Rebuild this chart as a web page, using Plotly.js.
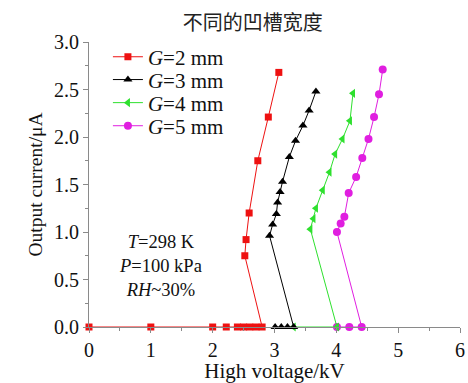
<!DOCTYPE html>
<html>
<head>
<meta charset="utf-8">
<script src="https://cdn.plot.ly/plotly-3.0.1.min.js"></script>
<style>html,body{margin:0;padding:0;background:#fff;}#chart{width:468px;height:383px;}</style>
</head>
<body>
<div id="chart"></div>
<script>
// Data (High voltage / kV, Output current / μA)
const g2_x = [0, 1, 2, 2.22, 2.4, 2.5, 2.6, 2.7, 2.8, 2.52, 2.54, 2.59, 2.73, 2.90, 3.07];
const g2_y = [0, 0, 0, 0, 0, 0, 0, 0, 0, 0.75, 0.92, 1.20, 1.75, 2.21, 2.68];

const g3_x = [3.01, 3.11, 3.21, 3.31, 2.92, 2.97, 3.03, 3.05, 3.09, 3.13, 3.24, 3.34, 3.46, 3.56, 3.67];
const g3_y = [0, 0, 0, 0, 0.96, 1.08, 1.19, 1.31, 1.42, 1.53, 1.79, 1.96, 2.12, 2.28, 2.48];

const g4_x = [3.31, 4.01, 3.58, 3.63, 3.67, 3.78, 3.89, 3.98, 4.10, 4.22, 4.27];
const g4_y = [0, 0, 1.03, 1.14, 1.25, 1.44, 1.63, 1.82, 1.98, 2.17, 2.46];

const g5_x = [4.01, 4.21, 4.41, 4.01, 4.07, 4.13, 4.20, 4.32, 4.42, 4.52, 4.61, 4.69, 4.75];
const g5_y = [0, 0, 0, 1.00, 1.09, 1.16, 1.41, 1.58, 1.78, 1.98, 2.21, 2.45, 2.71];

const seriesNames = ['<i>G</i>=2 mm', '<i>G</i>=3 mm', '<i>G</i>=4 mm', '<i>G</i>=5 mm'];
const titleText = '不同的凹槽宽度';
const xTitle = 'High voltage/kV';
const yTitle = 'Output current/μA';
const noteText = '<i>T</i>=298 K<br><i>P</i>=100 kPa<br><i>RH</i>~30%';

const serif = 'Liberation Serif, Times New Roman, serif';

function tr(x, y, name, color, symbol, size, legendId) {
  return {
    x: x, y: y, name: name, type: 'scatter', mode: 'lines+markers',
    line: {color: color, width: 1},
    marker: {color: color, symbol: symbol, size: size},
    cliponaxis: false, legend: legendId, showlegend: true
  };
}

// drawn in reverse so red is on top
const data = [
  tr(g5_x, g5_y, seriesNames[3], '#e01ee0', 'circle', 8, 'legend4'),
  tr(g4_x, g4_y, seriesNames[2], '#2ee02e', 'triangle-left', 8, 'legend3'),
  tr(g3_x, g3_y, seriesNames[1], '#000000', 'triangle-up', 8, 'legend2'),
  tr(g2_x, g2_y, seriesNames[0], '#ee1111', 'square', 7, 'legend')
];

const axisCommon = {
  showgrid: false, zeroline: false, showline: true, linecolor: '#8a8a8a', linewidth: 1,
  ticks: 'outside', ticklen: 5, tickcolor: '#8a8a8a', tickwidth: 1,
  tickfont: {family: serif, size: 20, color: '#111'},
  mirror: false
};

function legendAt(ypaper) {
  return {
    x: 0.051, y: ypaper, xanchor: 'left', yanchor: 'middle',
    bgcolor: 'rgba(0,0,0,0)', borderwidth: 0,
    font: {family: serif, size: 21, color: '#111'},
    itemwidth: 30
  };
}

const layout = {
  width: 468, height: 383,
  showlegend: true,
  margin: {l: 89, r: 8, t: 42, b: 56},
  paper_bgcolor: '#fff', plot_bgcolor: '#fff',
  title: {text: titleText, font: {family: 'Noto Sans CJK SC', size: 20, color: '#222'},
          x: 0.54, xref: 'container', y: 0.94, yref: 'container', yanchor: 'middle'},
  xaxis: Object.assign({}, axisCommon, {
    range: [0, 6], dtick: 1, tick0: 0,
    minor: {ticks: 'outside', ticklen: 3, tickcolor: '#8a8a8a', dtick: 0.5, tick0: 0},
    title: {text: xTitle, font: {family: serif, size: 21, color: '#111'}, standoff: 2}
  }),
  yaxis: Object.assign({}, axisCommon, {
    range: [0, 3], dtick: 0.5, tick0: 0, tickformat: '.1f',
    minor: {ticks: 'outside', ticklen: 3, tickcolor: '#8a8a8a', dtick: 0.25, tick0: 0},
    title: {text: yTitle, font: {family: serif, size: 19.5, color: '#111'}, standoff: 6}
  }),
  legend: legendAt(0.947),
  legend2: legendAt(0.867),
  legend3: legendAt(0.786),
  legend4: legendAt(0.705),
  annotations: [{
    text: noteText, x: 1.15, y: 0.64, xref: 'x', yref: 'y', showarrow: false,
    font: {family: serif, size: 18.5, color: '#111'}, align: 'center', yanchor: 'middle'
  }]
};

Plotly.newPlot('chart', data, layout, {displayModeBar: false, staticPlot: true});
</script>
</body>
</html>
